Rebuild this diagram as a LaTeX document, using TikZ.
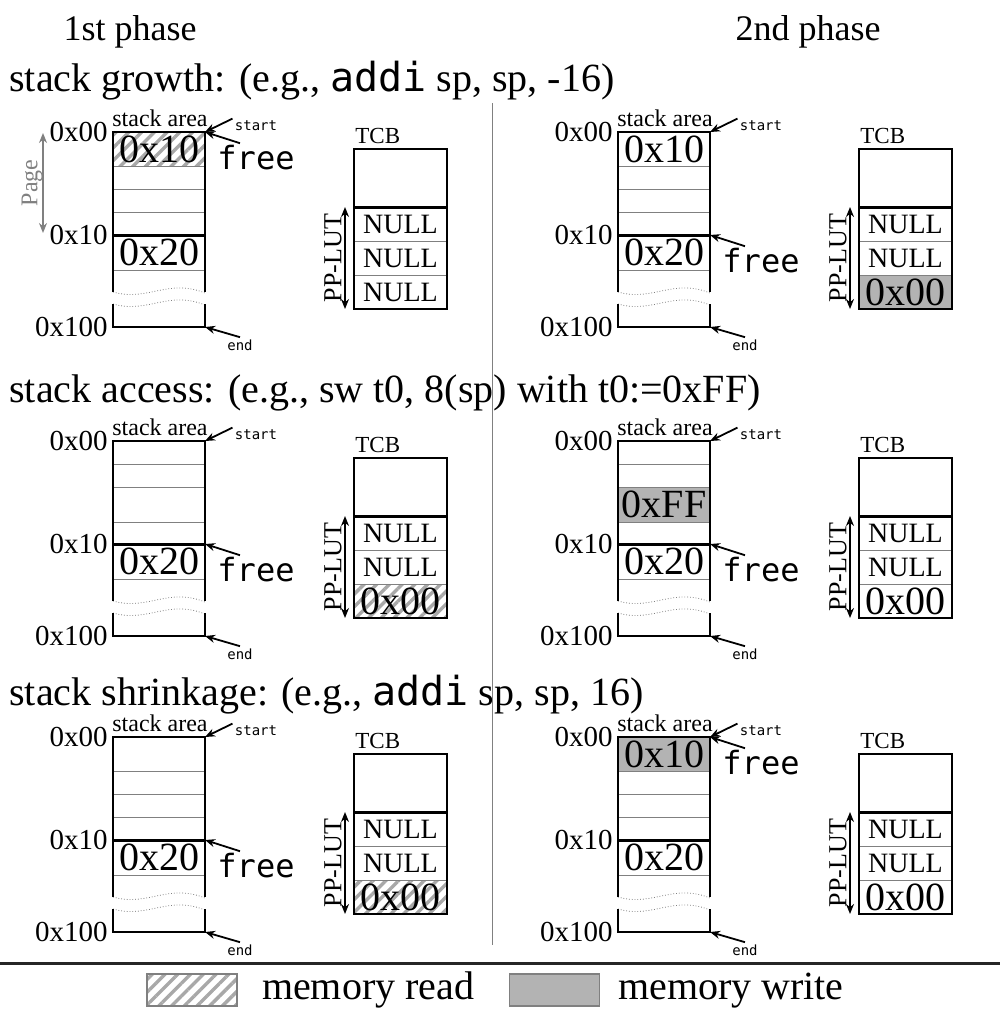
\documentclass[tikz,border=0pt]{standalone}
\usepackage{fontspec}
\setmainfont{Liberation Serif}
\setmonofont{DejaVu Sans Mono}
\usepackage{tikz}
\usetikzlibrary{arrows.meta,positioning,calc,patterns.meta}
\definecolor{wgray}{HTML}{B3B3B3}
\definecolor{rgray}{HTML}{A8A8A8}
\definecolor{lgray}{HTML}{808080}
\tikzset{
  frame/.style={line width=1.1pt, black},
  sep/.style={line width=1.5pt, black},
  cell/.style={line width=0.5pt, lgray},
  wave/.style={densely dotted, line width=0.4pt, gray},
  ptr/.style={-{Stealth[length=5pt,width=4pt]}, line width=0.9pt},
  lut/.style={{Stealth[length=5pt,width=4pt]}-{Stealth[length=5pt,width=4pt]}, line width=0.9pt},
  wr/.style={fill=wgray},
  rd/.style={pattern={Lines[angle=45,distance=4.5pt,line width=1.7pt]}, pattern color=rgray},
  val/.style={font=\fontsize{20}{20}\selectfont, inner sep=0pt},
  nul/.style={font=\fontsize{14}{14}\selectfont, inner sep=0pt},
  addr/.style={anchor=east, font=\fontsize{14.5}{14.5}\selectfont, inner sep=1pt},
  area/.style={anchor=base, font=\fontsize{12}{12}\selectfont, inner sep=0pt},
  tinytxt/.style={font=\ttfamily\fontsize{7}{7}\selectfont, inner sep=1pt},
  freetxt/.style={font=\ttfamily\fontsize{16}{16}\selectfont, inner sep=1pt},
  tcbtxt/.style={anchor=base west, font=\fontsize{11.5}{11.5}\selectfont, inner sep=0pt},
  luttxt/.style={rotate=90, font=\fontsize{13}{13}\selectfont, inner sep=0pt},
  head/.style={anchor=base west, font=\fontsize{20}{24}\selectfont, inner sep=0pt},
  phase/.style={anchor=base, font=\fontsize{18}{20}\selectfont, inner sep=0pt},
  legbox/.style={draw=gray, line width=0.6pt, minimum width=45pt, minimum height=16pt, inner sep=0pt},
  legtxt/.style={font=\fontsize{20}{24}\selectfont, inner sep=0pt, text height=14pt, text depth=4.5pt},
}
% stack area of one panel: #1 prefix, #2-#4 the three thin cell lines
\newcommand{\stackframe}[4]{%
  \draw[cell] (0,#2) -- (92,#2) (0,#3) -- (92,#3) (0,#4) -- (92,#4) (0,138) -- (92,138);
  \draw[wave] (0,160) .. controls (35,170) and (55,146) .. (92,161);
  \draw[wave] (0,172) .. controls (35,182) and (55,158) .. (92,173);
  \draw[frame] (0,160) -- (0,0) -- (92,0) -- (92,160);
  \draw[frame] (0,172) -- (0,195) -- (92,195) -- (92,172);
  \draw[sep] (0,103) -- (92,103);
  \coordinate (#1top) at (92,0);
  \coordinate (#1mid) at (92,103);
  \coordinate (#1bot) at (92,195);
  \node[addr] (#1a0) at (-3,0) {0x00};
  \node[addr] (#1a1) at (-3,103) {0x10};
  \node[addr] (#1a2) at (-3,195) {0x100};
  \node[area] (#1area) at (47,-6) {stack area};
  \node[tinytxt] (#1start) at (143,-6) {start};
  \node[tinytxt] (#1end) at (127,213) {end};
  \draw[ptr] (#1start.north west) -- (#1top);
  \draw[ptr] (#1end.north) -- (#1bot);
}
% TCB with its PP-LUT
\newcommand{\tcbframe}[1]{%
  \draw[cell] (241,109) -- (334,109) (241,143) -- (334,143);
  \draw[frame] (241,17) rectangle (334,177);
  \draw[sep] (241,75) -- (334,75);
  \node[tcbtxt] (#1tcb) at (242,11) {TCB};
  \coordinate (#1l0) at (232,75);
  \coordinate (#1l1) at (232,177);
  \draw[lut] (#1l0) -- (#1l1);
  \node[luttxt] (#1lut) at (220,126) {PP-LUT};
}

\begin{document}
\begin{tikzpicture}[x=0.5pt,y=-0.5pt]
 \useasboundingbox (0,0) rectangle (1000,1012);
 \node[phase] (ph1) at (130,40) {1st phase};
 \node[phase] (ph2) at (808,40) {2nd phase};
 \node[head] (hGrow) at (9,91) {stack growth: (e.g., \texttt{addi} sp, sp, -16)};
 \node[head] (hAcc) at (9,402) {stack access: (e.g., sw t0, 8(sp) with t0:=0xFF)};
 \node[head] (hShr) at (9,705) {stack shrinkage: (e.g., \texttt{addi} sp, sp, 16)};
 \coordinate (sepT) at (492,103);
 \coordinate (sepB) at (492,945);
 \draw[lgray, line width=0.5pt] (sepT) -- (sepB);
 % growth, 1st phase
 \begin{scope}[shift={(113,132)}]
  \fill[rd] (0,0) rectangle (92,34);
  \stackframe{gA}{34}{57}{80}
  \tcbframe{gA}
  \node[val] (gAv1) at (46,17) {0x10};
  \node[val] (gAv2) at (46,120.5) {0x20};
  \node[nul] (gAt1) at (287.5,92) {NULL};
  \node[nul] (gAt2) at (287.5,126) {NULL};
  \node[nul] (gAt3) at (287.5,160) {NULL};
  \node[freetxt] (gAfree) at (143,26) {free};
  \draw[ptr] ([xshift=-8pt]gAfree.north) -- (gAtop);
  \coordinate (gAp0) at (-70,1);
  \coordinate (gAp1) at (-70,101);
  \draw[lut, gray] (gAp0) -- (gAp1);
  \node[luttxt, gray, font=\fontsize{12}{12}\selectfont] (gApage) at (-81,51) {Page};
 \end{scope}
 % growth, 2nd phase
 \begin{scope}[shift={(618,132)}]
  \fill[wr] (241,143) rectangle (334,177);
  \stackframe{gB}{34}{57}{80}
  \tcbframe{gB}
  \node[val] (gBv1) at (46,17) {0x10};
  \node[val] (gBv2) at (46,120.5) {0x20};
  \node[nul] (gBt1) at (287.5,92) {NULL};
  \node[nul] (gBt2) at (287.5,126) {NULL};
  \node[val] (gBt3) at (287.5,160) {0x00};
  \node[freetxt] (gBfree) at (143,129) {free};
  \draw[ptr] ([xshift=-8pt]gBfree.north) -- (gBmid);
 \end{scope}
 % access, 1st phase
 \begin{scope}[shift={(113,441)}]
  \fill[rd] (241,143) rectangle (334,177);
  \stackframe{aA}{23}{46}{81}
  \tcbframe{aA}
  \node[val] (aAv2) at (46,120.5) {0x20};
  \node[nul] (aAt1) at (287.5,92) {NULL};
  \node[nul] (aAt2) at (287.5,126) {NULL};
  \node[val] (aAt3) at (287.5,160) {0x00};
  \node[freetxt] (aAfree) at (143,129) {free};
  \draw[ptr] ([xshift=-8pt]aAfree.north) -- (aAmid);
 \end{scope}
 % access, 2nd phase
 \begin{scope}[shift={(618,441)}]
  \fill[wr] (0,46) rectangle (92,81);
  \stackframe{aB}{23}{46}{81}
  \tcbframe{aB}
  \node[val] (aBv1) at (46,63.5) {0xFF};
  \node[val] (aBv2) at (46,120.5) {0x20};
  \node[nul] (aBt1) at (287.5,92) {NULL};
  \node[nul] (aBt2) at (287.5,126) {NULL};
  \node[val] (aBt3) at (287.5,160) {0x00};
  \node[freetxt] (aBfree) at (143,129) {free};
  \draw[ptr] ([xshift=-8pt]aBfree.north) -- (aBmid);
 \end{scope}
 % shrinkage, 1st phase
 \begin{scope}[shift={(113,737)}]
  \fill[rd] (241,143) rectangle (334,177);
  \stackframe{sA}{34}{57}{80}
  \tcbframe{sA}
  \node[val] (sAv2) at (46,120.5) {0x20};
  \node[nul] (sAt1) at (287.5,92) {NULL};
  \node[nul] (sAt2) at (287.5,126) {NULL};
  \node[val] (sAt3) at (287.5,160) {0x00};
  \node[freetxt] (sAfree) at (143,129) {free};
  \draw[ptr] ([xshift=-8pt]sAfree.north) -- (sAmid);
 \end{scope}
 % shrinkage, 2nd phase
 \begin{scope}[shift={(618,737)}]
  \fill[wr] (0,0) rectangle (92,34);
  \stackframe{sB}{34}{57}{80}
  \tcbframe{sB}
  \node[val] (sBv1) at (46,17) {0x10};
  \node[val] (sBv2) at (46,120.5) {0x20};
  \node[nul] (sBt1) at (287.5,92) {NULL};
  \node[nul] (sBt2) at (287.5,126) {NULL};
  \node[val] (sBt3) at (287.5,160) {0x00};
  \node[freetxt] (sBfree) at (143,26) {free};
  \draw[ptr] ([xshift=-8pt]sBfree.north) -- (sBtop);
 \end{scope}
 % legend
 \coordinate (ruleL) at (0,963);
 \coordinate (ruleR) at (1000,963);
 \draw[line width=1.5pt, black!85] (ruleL) -- (ruleR);
 \node[legbox, rd] (keyRd) at (192,990) {};
 \node[legtxt, right=12pt of keyRd] (keyRdTxt) {memory read};
 \node[legbox, wr, right=17pt of keyRdTxt] (keyWr) {};
 \node[legtxt, right=9pt of keyWr] (keyWrTxt) {memory write};
\end{tikzpicture}
\end{document}
